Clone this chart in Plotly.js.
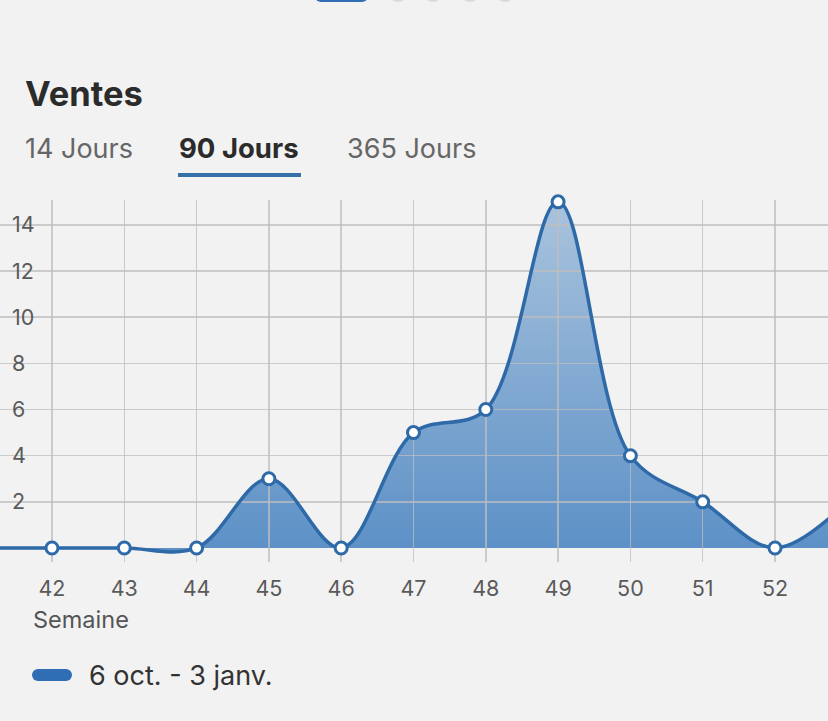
<!DOCTYPE html>
<html>
<head>
<meta charset="utf-8">
<script src="https://cdn.plot.ly/plotly-3.0.1.min.js"></script>
<style>
  html, body { margin: 0; padding: 0; background: #f2f2f2; overflow: hidden; }
  #wrap { position: relative; width: 828px; height: 721px; overflow: hidden; font-family: Inter, "Noto Sans", sans-serif; }
  .plot { position: absolute; left: 0; top: 0; width: 828px; height: 721px; }
  .txt { position: absolute; white-space: nowrap; }
  .dot { position: absolute; top: -18px; width: 20px; height: 20px; border-radius: 50%; background: #dadada; }
</style>
</head>
<body>
<div id="wrap">
  <div id="fillplot" class="plot"></div>
  <div id="lineplot" class="plot"></div>

  <div style="position:absolute;left:315px;top:-10px;width:53px;height:12px;border-radius:6px;background:#2f6db5;"></div>
  <div class="dot" style="left:388px;"></div>
  <div class="dot" style="left:423px;"></div>
  <div class="dot" style="left:460px;"></div>
  <div class="dot" style="left:495px;"></div>

  <div class="txt" style="left:25px;top:77px;font-size:34.5px;line-height:34.5px;font-weight:700;color:#2b2b2b;">Ventes</div>
  <div class="txt" style="left:25px;top:135px;font-size:27px;line-height:27px;color:#666;">14 Jours</div>
  <div class="txt" style="left:179px;top:135px;font-size:27.5px;line-height:27px;font-weight:700;color:#2b2b2b;">90 Jours</div>
  <div class="txt" style="left:347px;top:135px;font-size:27px;line-height:27px;color:#666;">365 Jours</div>
  <div style="position:absolute;left:178px;top:173px;width:123px;height:4px;background:#3571a8;"></div>

  <div class="txt" style="left:33px;top:608px;font-size:23.5px;line-height:23.5px;color:#555;">Semaine</div>
  <div style="position:absolute;left:32px;top:669px;width:40px;height:12px;border-radius:6px;background:#2f6db5;"></div>
  <div class="txt" id="legendText" style="left:89px;top:662px;font-size:27px;line-height:27px;color:#333;">6 oct. - 3 janv.</div>
</div>
<script>
// ---- data ----
var weeks = ['41', '42', '43', '44', '45', '46', '47', '48', '49', '50', '51', '52', '1'];
var ventes = [0, 0, 0, 0, 3, 0, 5, 6, 15, 4, 2, 0, 2];
var yTicks = [2, 4, 6, 8, 10, 12, 14];
var seriesName = '6 oct. - 3 janv.';

var lineColor = '#2f6aa8';
var xRange = [0.281, 11.733];
var yRange = [-0.607, 15.08];

function baseLayout(showAxes) {
  return {
    width: 828, height: 721,
    margin: { l: 0, r: 0, t: 200, b: 159, pad: 0 },
    paper_bgcolor: showAxes ? 'rgba(0,0,0,0)' : '#f2f2f2',
    plot_bgcolor: 'rgba(0,0,0,0)',
    showlegend: false,
    font: { family: 'Inter, "Noto Sans", sans-serif', size: 22, color: '#5a5a5a' },
    xaxis: {
      type: 'category',
      range: xRange,
      showgrid: showAxes,
      gridcolor: 'rgba(190,190,190,0.75)',
      gridwidth: 1.5,
      zeroline: false,
      showline: false,
      showticklabels: showAxes,
      ticks: showAxes ? 'outside' : '',
      ticklen: 7,
      tickcolor: 'rgba(0,0,0,0)',
      tickfont: { family: 'Inter, "Noto Sans", sans-serif', size: 21.5, color: '#5a5a5a' },
      fixedrange: true
    },
    yaxis: {
      range: yRange,
      tickvals: yTicks,
      ticktext: yTicks.map(String),
      showgrid: showAxes,
      gridcolor: 'rgba(190,190,190,0.75)',
      gridwidth: 1.5,
      zeroline: false,
      showline: false,
      showticklabels: showAxes,
      ticklabelposition: 'inside',
      ticks: '',
      ticklabelstandoff: 9,
      tickfont: { family: 'Inter, "Noto Sans", sans-serif', size: 21.5, color: '#5a5a5a' },
      fixedrange: true
    }
  };
}

var fillTrace = {
  x: weeks, y: ventes,
  type: 'scatter', mode: 'lines',
  line: { shape: 'spline', smoothing: 1, width: 0, color: lineColor },
  fill: 'tozeroy',
  fillgradient: {
    type: 'vertical',
    colorscale: [[0, '#5d91c7'], [1, '#a9c3dd']],
    start: 0, stop: 15
  },
  hoverinfo: 'skip'
};

var lineTrace = {
  x: weeks, y: ventes,
  name: seriesName,
  type: 'scatter', mode: 'lines+markers',
  line: { shape: 'spline', smoothing: 1, width: 3.5, color: lineColor },
  marker: { size: 12, color: '#ffffff', line: { color: lineColor, width: 3 } },
  cliponaxis: false
};

Plotly.newPlot('fillplot', [fillTrace], baseLayout(false), { staticPlot: true, displayModeBar: false });
Plotly.newPlot('lineplot', [lineTrace], baseLayout(true), { staticPlot: true, displayModeBar: false });
</script>
</body>
</html>
